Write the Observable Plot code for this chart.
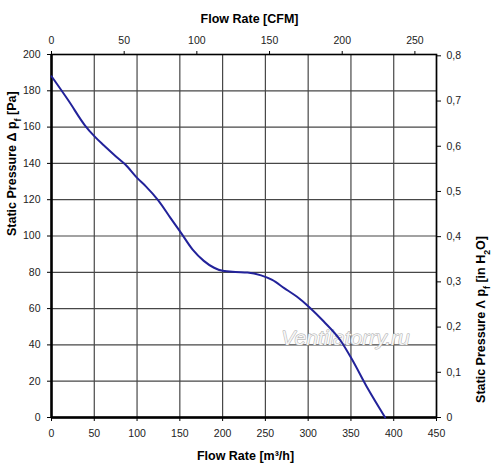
<!DOCTYPE html>
<html>
<head>
<meta charset="utf-8">
<script src="https://cdn.jsdelivr.net/npm/d3@7"></script>
<script src="https://cdn.jsdelivr.net/npm/@observablehq/plot@0.6"></script>
<style>
  html, body { margin: 0; padding: 0; background: #fff; }
  #chart { width: 500px; height: 473px; }
</style>
</head>
<body>
<div id="chart"></div>
<script>
// Flow rate [m³/h] and static pressure [Pa]
const flowRate = [0, 20, 39, 50, 61, 75, 86, 100, 110, 125, 139, 151, 165, 178, 190, 200, 215, 229, 245, 258, 272, 287, 302, 318, 338, 351, 369, 390];
const pressure = [188, 174.5, 161, 155, 150, 144, 139.5, 132, 127.5, 119.5, 110, 102, 92.5, 86.3, 82.5, 80.8, 80.2, 79.9, 78.3, 75.8, 71.3, 66.5, 60.5, 53, 42.3, 32.2, 16.5, 0];

// Tick labels
const xTicks = [0, 50, 100, 150, 200, 250, 300, 350, 400, 450];
const yTicks = [0, 20, 40, 60, 80, 100, 120, 140, 160, 180, 200];
const cfmTicks = [0, 50, 100, 150, 200, 250];
const inH2OTicks = [0, 0.1, 0.2, 0.3, 0.4, 0.5, 0.6, 0.7, 0.8];

// Unit conversions
const M3H_PER_CFM = 1.699;
const PA_PER_INH2O = 249.089;

const data = flowRate.map((q, i) => ({q, p: pressure[i]}));

const fmtComma = v => {
  const r = Math.round(v * 10) / 10;
  return String(r).replace(".", ",");
};

const labelStyle = {fontWeight: "bold", fontSize: 12.5, fill: "#000"};

const chart = Plot.plot({
  width: 500,
  height: 473,
  marginLeft: 51,
  marginRight: 64,
  marginTop: 54,
  marginBottom: 56,
  style: {fontFamily: "'Liberation Sans', Arial, sans-serif", fontSize: "10.5px", background: "#fff", color: "#000"},
  x: {domain: [0, 450]},
  y: {domain: [0, 200]},
  marks: [
    Plot.gridX(xTicks, {stroke: "#474747", strokeOpacity: 1, strokeWidth: 1.2}),
    Plot.gridY(yTicks, {stroke: "#474747", strokeOpacity: 1, strokeWidth: 1.2}),
    Plot.axisX(xTicks, {anchor: "bottom", tickSize: 4, tickPadding: 8, label: null, fill: "#222", tickFormat: d => String(d)}),
    Plot.axisX(cfmTicks.map(c => c * M3H_PER_CFM), {anchor: "top", tickSize: 4, tickPadding: 7, label: null, fill: "#222", tickFormat: d => String(Math.round(d / M3H_PER_CFM))}),
    Plot.axisY(yTicks, {anchor: "left", tickSize: 4, tickPadding: 7, label: null, fill: "#222", tickFormat: d => String(d)}),
    Plot.axisY(inH2OTicks.map(v => v * PA_PER_INH2O), {anchor: "right", tickSize: 4, tickPadding: 6, label: null, fill: "#222", tickFormat: d => fmtComma(d / PA_PER_INH2O)}),
    Plot.frame({stroke: "#000", strokeWidth: 1.6}),
    Plot.ruleX([0], {stroke: "#000", strokeWidth: 2.4}),
    Plot.ruleY([0], {stroke: "#000", strokeWidth: 2.4}),
    Plot.text(["Ventilatorry.ru"], {frameAnchor: "bottom-right", dx: -91, dy: -79, textAnchor: "middle", lineAnchor: "middle", fontSize: 21, fontStyle: "italic", fill: "#f4f4f4", stroke: "#a5a5a5", strokeWidth: 0.9}),
    Plot.line(data, {x: "q", y: "p", stroke: "#22229a", strokeWidth: 2, curve: "monotone-x"}),
    Plot.text(["Flow Rate [CFM]"], {frameAnchor: "top", dx: 5.5, dy: -35.5, lineAnchor: "middle", ...labelStyle}),
    Plot.text(["Flow Rate [m³/h]"], {frameAnchor: "bottom", dx: 1.5, dy: 38, lineAnchor: "middle", ...labelStyle}),
    Plot.text(["Static Pressure Δ p_f [Pa]"], {frameAnchor: "left", dx: -40, dy: 0, rotate: -90, lineAnchor: "middle", ...labelStyle}),
    Plot.text(["Static Pressure Λ p_f [in H_2O]"], {frameAnchor: "right", dx: 44, dy: 0, rotate: -90, lineAnchor: "middle", ...labelStyle})
  ]
});

// Render subscripts as tspans
d3.select(chart).selectAll("text").each(function() {
  const t = this.textContent;
  if (t.indexOf("_") < 0) return;
  const sel = d3.select(this);
  sel.text(null);
  const parts = t.split(/(_.)/);
  parts.forEach(part => {
    if (!part) return;
    if (part[0] === "_") {
      sel.append("tspan").attr("baseline-shift", "sub").attr("font-size", "0.7em").text(part.slice(1));
    } else {
      sel.append("tspan").text(part);
    }
  });
});

document.getElementById("chart").appendChild(chart);
</script>
</body>
</html>
